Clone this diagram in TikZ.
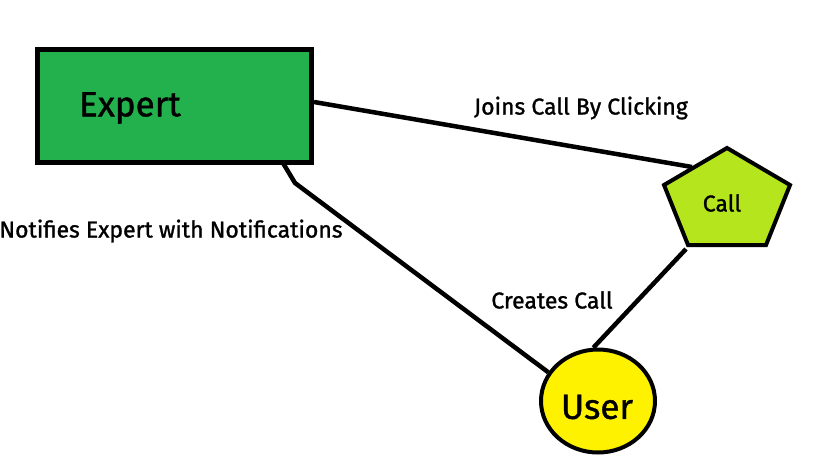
\documentclass[tikz,border=0pt]{standalone}
\usepackage{fontspec}
\setmainfont{Fira Sans}[FakeBold=1.2]
\usetikzlibrary{shapes.geometric}
\definecolor{paintgreen}{HTML}{22B14C}
\definecolor{paintlime}{HTML}{B5E61D}
\definecolor{paintyellow}{HTML}{FFF200}
\begin{document}
\begin{tikzpicture}[x=1pt,y=-1pt,
  conn/.style={line width=4.5pt},
  lbl/.style={font=\fontsize{23}{26}\selectfont, inner sep=0pt},
  big/.style={font=\fontsize{35}{40}\selectfont, inner sep=0pt}]
\useasboundingbox (0,0) rectangle (819,460);
% Expert box
\node[draw, line width=5pt, fill=paintgreen, minimum width=274pt, minimum height=113pt, inner sep=0pt] (expert) at (174.5,106) {};
\node[big] (experttext) at (130,108) {Expert};
% Call pentagon
\coordinate (ptop) at (727,148);
\coordinate (pright) at (790,185);
\coordinate (pbr) at (766,245);
\coordinate (pbl) at (688,245);
\coordinate (pleft) at (664,185);
\fill[paintlime] (ptop) -- (pright) -- (pbr) -- (pbl) -- (pleft) -- cycle;
\draw[line width=4pt, line join=miter] (ptop) -- (pright) -- (pbr) -- (pbl) -- (pleft) -- cycle;
\node[lbl] (call) at (722,203) {Call};
\coordinate (callin) at (692,167);
\coordinate (callout) at (686,249);
% User circle
\node[draw, ellipse, line width=4pt, fill=paintyellow, minimum width=114pt, minimum height=103pt, inner sep=0pt] (user) at (598,401) {};
\node[big] (usertext) at (597,407) {User};
% connectors
\coordinate (bend) at (295,183);
\draw[conn] (expert.east |- 0,102) -- (callin);
\draw[conn] (283,163) -- (bend) -- (user.150);
\draw[conn] (callout) -- (user.95);
% labels
\node[lbl] (l1) at (581,108) {Joins Call By Clicking};
\node[lbl] (l2) at (171,231) {Notifies Expert with Notifications};
\node[lbl] (l3) at (552,300) {Creates Call};
\end{tikzpicture}
\end{document}
